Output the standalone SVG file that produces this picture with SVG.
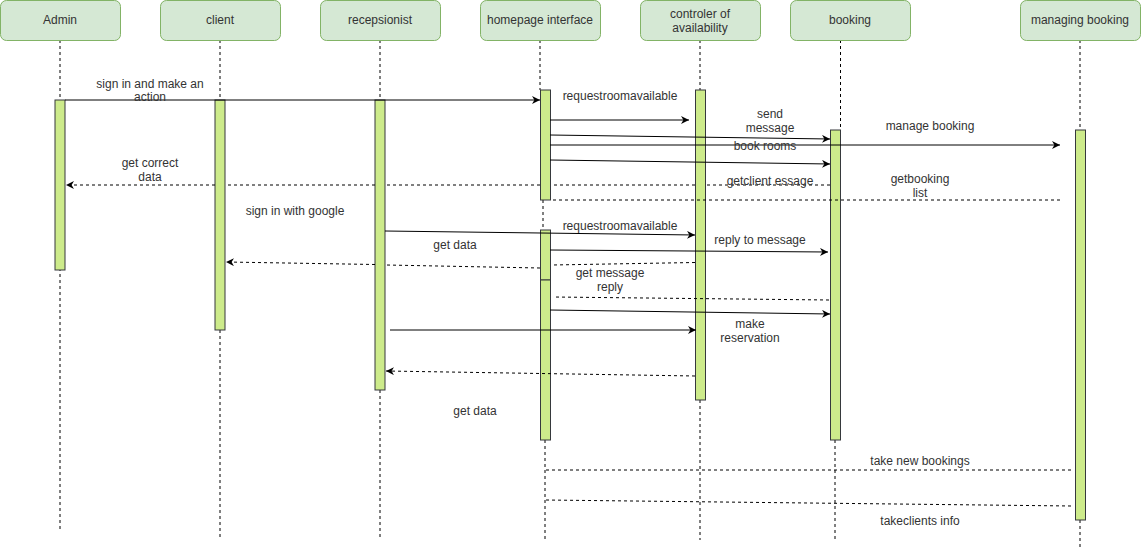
<svg xmlns="http://www.w3.org/2000/svg" width="1141" height="552" viewBox="0 0 1141 552">
  <style>
    .head { fill: #d5e8d4; stroke: #82b366; stroke-width: 1; }
    .bar { fill: #cdeb8b; stroke: #36393d; stroke-width: 1; }
    .life { fill: none; stroke: #000; stroke-width: 1; stroke-dasharray: 3 3; }
    .msg { fill: none; stroke: #000; stroke-width: 1; }
    .ret { fill: none; stroke: #000; stroke-width: 1; stroke-dasharray: 3 3; }
    text { font-family: "Liberation Sans", Arial, Helvetica, sans-serif; font-size: 12px; fill: #333; text-anchor: middle; dominant-baseline: central; }
  </style>
  <defs>
    <marker id="arrow" viewBox="0 0 10 10" refX="10" refY="5" markerWidth="8" markerHeight="8" markerUnits="userSpaceOnUse" orient="auto">
      <path d="M0,0 L10,5 L0,10 L3,5 Z" fill="#000"/>
    </marker>
  </defs>
  <rect width="1141" height="552" fill="#fff"/>

  <!-- lifelines: header box, dashed line, activation bars -->
  <g id="admin">
    <path class="life" d="M60,40 V100 M60,262 V530"/>
    <rect class="head" x="0.5" y="0.5" width="120" height="40" rx="6"/>
    <text x="60" y="20">Admin</text>
    <rect class="bar" x="55" y="100" width="10" height="170"/>
  </g>
  <g id="client">
    <path class="life" d="M220,40 V100 M220,330 V540"/>
    <rect class="head" x="160.5" y="0.5" width="120" height="40" rx="6"/>
    <text x="220" y="20">client</text>
    <rect class="bar" x="215" y="100" width="10" height="230"/>
  </g>
  <g id="recepsionist">
    <path class="life" d="M380,40 V100 M380,390 V540"/>
    <rect class="head" x="320.5" y="0.5" width="120" height="40" rx="6"/>
    <text x="380" y="20">recepsionist</text>
    <rect class="bar" x="375" y="100" width="10" height="290"/>
  </g>
  <g id="homepage">
    <path class="life" d="M540,40 V90 M543,200 V230 M545,440 V540"/>
    <rect class="head" x="480.5" y="0.5" width="120" height="40" rx="6"/>
    <text x="540" y="20">homepage interface</text>
    <rect class="bar" x="540.5" y="90" width="10" height="110"/>
    <rect class="bar" x="540.5" y="230" width="10" height="50"/>
    <rect class="bar" x="540.5" y="280" width="10" height="160"/>
  </g>
  <g id="controler">
    <path class="life" d="M700,40 V90 M700,400 V540"/>
    <rect class="head" x="640.5" y="0.5" width="120" height="40" rx="6"/>
    <text x="700" y="14">controler of</text>
    <text x="700" y="28">availability</text>
    <rect class="bar" x="695.5" y="90" width="10" height="310"/>
  </g>
  <g id="booking">
    <path class="life" d="M840.5,40 V130 M835,440 V540"/>
    <rect class="head" x="790.5" y="0.5" width="120" height="40" rx="6"/>
    <text x="850" y="20">booking</text>
    <rect class="bar" x="830.5" y="130" width="10" height="310"/>
  </g>
  <g id="managing">
    <path class="life" d="M1080,40 V130 M1080,520 V548"/>
    <rect class="head" x="1020.5" y="0.5" width="120" height="40" rx="6"/>
    <text x="1080" y="20">managing booking</text>
    <rect class="bar" x="1075.5" y="130" width="10" height="390"/>
  </g>

  <!-- messages -->
  <g id="connectors">
    <path class="msg" d="M65,100 H540" marker-end="url(#arrow)"/>
    <path class="msg" d="M550,120 H689" marker-end="url(#arrow)"/>
    <path class="msg" d="M550,135 L830,139" marker-end="url(#arrow)"/>
    <path class="msg" d="M550,145 H1060" marker-end="url(#arrow)"/>
    <path class="msg" d="M550,160 L830,164" marker-end="url(#arrow)"/>
    <path class="ret" d="M830,185 H706 M695,185 H551 M540,185 H386 M375,185 H226 M215,185 H66" marker-end="url(#arrow)"/>
    <path class="ret" d="M1060,200 H551"/>
    <path class="msg" d="M385,231 L695,235" marker-end="url(#arrow)"/>
    <path class="msg" d="M550,250 L828,252" marker-end="url(#arrow)"/>
    <path class="ret" d="M695,262.5 L552,265 M540,268 L386,265 M375,264.5 L226,262" marker-end="url(#arrow)"/>
    <path class="ret" d="M829,300 L553,297"/>
    <path class="msg" d="M550,310 L830,314" marker-end="url(#arrow)"/>
    <path class="msg" d="M390,330 H696" marker-end="url(#arrow)"/>
    <path class="ret" d="M695,376 L386,371" marker-end="url(#arrow)"/>
    <path class="ret" d="M1071,470 H545"/>
    <path class="ret" d="M1071,506 L545,500"/>

    <text x="150" y="84">sign in and make an</text>
    <text x="150" y="97">action</text>
    <text x="620" y="96">requestroomavailable</text>
    <text x="770" y="114">send</text>
    <text x="770" y="128">message</text>
    <text x="930" y="126">manage booking</text>
    <text x="765" y="146">book rooms</text>
    <text x="150" y="163">get correct</text>
    <text x="150" y="177">data</text>
    <text x="770" y="181">getclient essage</text>
    <text x="920" y="179">getbooking</text>
    <text x="920" y="193">list</text>
    <text x="295" y="211">sign in with google</text>
    <text x="620" y="226">requestroomavailable</text>
    <text x="455" y="245">get data</text>
    <text x="760" y="240">reply to message</text>
    <text x="610" y="273">get message</text>
    <text x="610" y="287">reply</text>
    <text x="750" y="324">make</text>
    <text x="750" y="338">reservation</text>
    <text x="475" y="411">get data</text>
    <text x="920" y="461">take new bookings</text>
    <text x="920" y="521">takeclients info</text>
  </g>
</svg>
